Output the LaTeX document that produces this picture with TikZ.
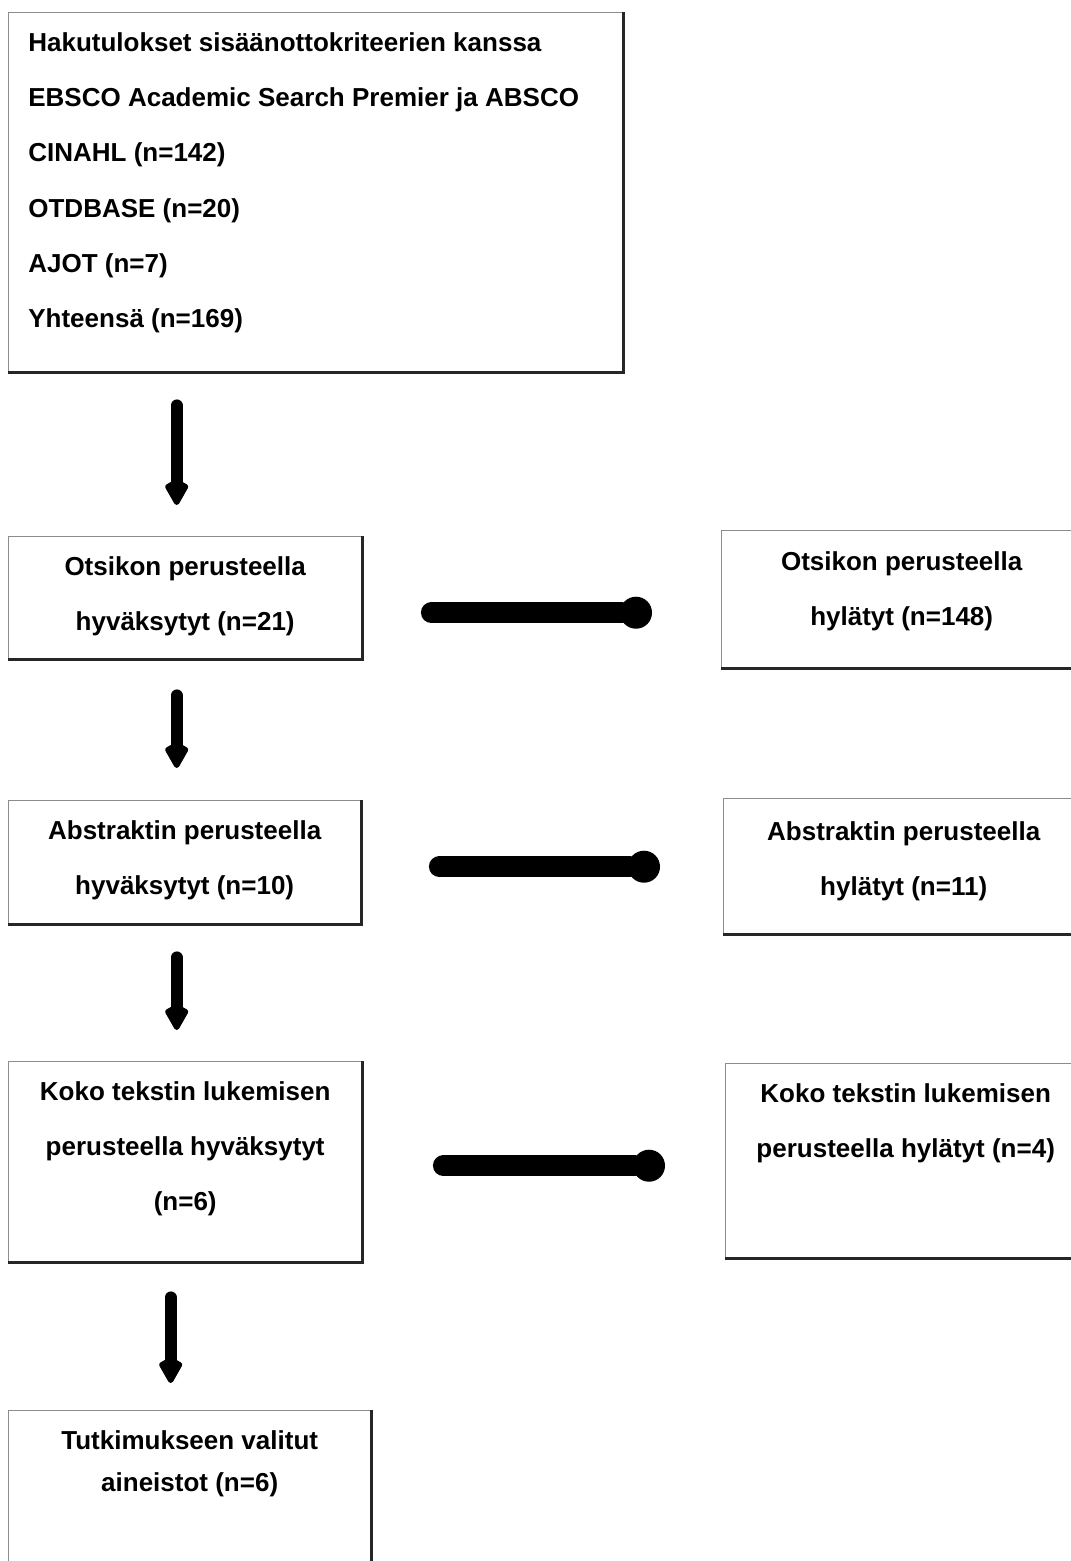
\documentclass[tikz,border=0pt]{standalone}
\usepackage{fontspec}
\setmainfont{Liberation Sans}
\usetikzlibrary{arrows.meta, positioning}

\begin{document}
\begin{tikzpicture}[
    every node/.style={font=\bfseries\fontsize{14.8}{31.5}\selectfont},
    box/.style={rectangle, draw=black!45, line width=0.8pt, anchor=north west, inner sep=0pt},
    txt/.style={inner sep=0pt, align=center},
    edge/.style={draw=black!85, line width=1.7pt},
    down/.style={line width=0.24cm, line cap=round, -{Kite[length=0.58cm, width=0.5cm, inset=0.14cm, round, line width=3pt]}},
    side/.style={line width=0.42cm, line cap=round, -{Circle[length=0.64cm, line width=2pt]}}
  ]
    \useasboundingbox (0,0) rectangle (21.42,-31.22);

    % boxes
    \node[box, minimum width=12.28cm, minimum height=7.18cm] (b1) at (0.16,-0.24) {};
    \node[box, minimum width=7.06cm, minimum height=2.44cm] (b2) at (0.16,-10.72) {};
    \node[box, minimum width=7.2cm, minimum height=2.74cm] (b3) at (14.42,-10.60) {};
    \node[box, minimum width=7.04cm, minimum height=2.46cm] (b4) at (0.16,-16.00) {};
    \node[box, minimum width=7.2cm, minimum height=2.70cm] (b5) at (14.46,-15.96) {};
    \node[box, minimum width=7.06cm, minimum height=4.00cm] (b6) at (0.16,-21.22) {};
    \node[box, minimum width=7.2cm, minimum height=3.88cm] (b7) at (14.50,-21.26) {};
    \node[box, minimum width=7.24cm, minimum height=4.00cm] (b8) at (0.16,-28.20) {};
    \foreach \i in {1,...,8}
      \draw[edge] (b\i.north east) -- (b\i.south east) -- (b\i.south west);

    % texts
    \node[txt, align=left, below right=0.4cm and 0.4cm of b1.north west] (t1) {Hakutulokset sisäänottokriteerien kanssa\\EBSCO Academic Search Premier ja ABSCO\\CINAHL (n=142)\\OTDBASE (n=20)\\AJOT (n=7)\\Yhteensä (n=169)};
    \node[txt, below=0.4cm of b2.north] (t2) {Otsikon perusteella\\hyväksytyt (n=21)};
    \node[txt, below=0.42cm of b3.north] (t3) {Otsikon perusteella\\hylätyt (n=148)};
    \node[txt, below=0.4cm of b4.north] (t4) {Abstraktin perusteella\\hyväksytyt (n=10)};
    \node[txt, below=0.46cm of b5.north] (t5) {Abstraktin perusteella\\hylätyt (n=11)};
    \node[txt, below=0.4cm of b6.north] (t6) {Koko tekstin lukemisen\\perusteella hyväksytyt\\(n=6)};
    \node[txt, below=0.4cm of b7.north] (t7) {Koko tekstin lukemisen\\perusteella hylätyt (n=4)};
    \node[txt, below=0.4cm of b8.north, font=\bfseries\fontsize{14.8}{23.9}\selectfont] (t8) {Tutkimukseen valitut\\aineistot (n=6)};

    % arrows
    \draw[down, shorten <=0.66cm, shorten >=0.62cm] ([xshift=-0.17cm]b2.north |- b1.south) -- ([xshift=-0.17cm]b2.north);
    \draw[down, shorten <=0.72cm, shorten >=0.64cm] ([xshift=-0.16cm]b4.north |- b2.south) -- ([xshift=-0.16cm]b4.north);
    \draw[down, shorten <=0.66cm, shorten >=0.62cm] ([xshift=-0.17cm]b6.north |- b4.south) -- ([xshift=-0.17cm]b6.north);
    \draw[down, shorten <=0.70cm, shorten >=0.54cm] ([xshift=-0.38cm]b8.north |- b6.south) -- ([xshift=-0.38cm]b8.north);
    \draw[side, shorten <=1.38cm, shorten >=1.38cm] ([yshift=-0.3cm]b2.east) -- ([yshift=-0.3cm]b2.east -| b3.west);
    \draw[side, shorten <=1.56cm, shorten >=1.26cm] ([yshift=-0.09cm]b4.east) -- ([yshift=-0.09cm]b4.east -| b5.west);
    \draw[side, shorten <=1.62cm, shorten >=1.20cm] ([yshift=-0.08cm]b6.east) -- ([yshift=-0.08cm]b6.east -| b7.west);
  \end{tikzpicture}
\end{document}
